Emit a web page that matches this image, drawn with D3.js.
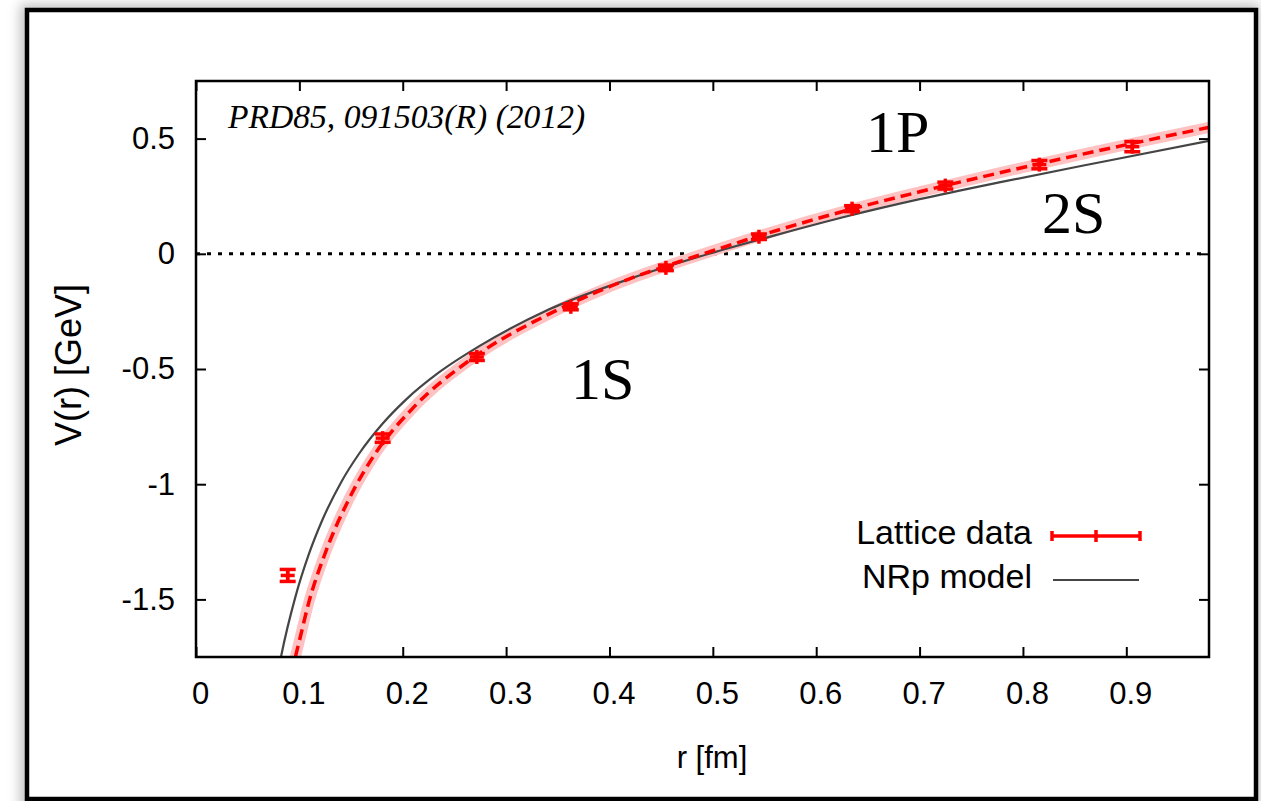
<!DOCTYPE html>
<html><head><meta charset="utf-8">
<script src="https://cdn.jsdelivr.net/npm/d3@7"></script>
<style>body{margin:0;background:#fff;} svg{display:block}</style>
</head><body>
<svg id="c" width="1261" height="801"></svg>
<script>
// ---- data ----
const latticeR   = [0.0887, 0.1806, 0.2717, 0.3626, 0.4546, 0.5446, 0.6347, 0.7249, 0.8159, 0.9058];
const latticeV   = [-1.396, -0.800, -0.448, -0.230, -0.061, 0.074, 0.196, 0.296, 0.387, 0.465];
const latticeErr = [0.026, 0.018, 0.015, 0.013, 0.012, 0.012, 0.013, 0.015, 0.018, 0.022];

const fitR = [0.093, 0.0961, 0.100, 0.109, 0.1252, 0.1477, 0.1748, 0.2087, 0.2704, 0.3413, 0.400, 0.4991, 0.550, 0.6318, 0.700, 0.777, 0.850, 0.9058, 0.980];
const fitV = [-1.82, -1.752, -1.68, -1.515, -1.297, -1.067, -0.858, -0.675, -0.444, -0.262, -0.143, 0.012, 0.085, 0.191, 0.269, 0.351, 0.425, 0.479, 0.549];

const nrpR = [0.080, 0.0826, 0.0961, 0.109, 0.1216, 0.1407, 0.1574, 0.180, 0.2026, 0.235, 0.2736, 0.3413, 0.420, 0.4962, 0.560, 0.6318, 0.700, 0.777, 0.8834, 0.980];
const nrpV = [-1.80, -1.741, -1.49, -1.306, -1.162, -0.989, -0.870, -0.740, -0.635, -0.515, -0.402, -0.242, -0.108, 0.000, 0.080, 0.165, 0.237, 0.310, 0.405, 0.490];

const xTicks = [0, 0.1, 0.2, 0.3, 0.4, 0.5, 0.6, 0.7, 0.8, 0.9];
const xTickLabels = ["0", "0.1", "0.2", "0.3", "0.4", "0.5", "0.6", "0.7", "0.8", "0.9"];
const yTicks = [0.5, 0, -0.5, -1, -1.5];
const yTickLabels = ["0.5", "0", "-0.5", "-1", "-1.5"];

const seriesNames = ["Lattice data", "NRp model"];
const xTitle = "r [fm]";
const yTitle = "V(r) [GeV]";
const refText = "PRD85, 091503(R) (2012)";
const stateLabels = [{t: "1P"}, {t: "2S"}, {t: "1S"}];

// ---- layout ----
const svg = d3.select("#c");
const L = 196, R = 1209, T = 81, B = 657;
const x = d3.scaleLinear().domain([0, 0.98]).range([L, R]);
const y = d3.scaleLinear().domain([-1.75, 0.75]).range([B, T]);
const font = "'Liberation Sans', Arial, Helvetica, sans-serif";
const serif = "'Liberation Serif', 'Times New Roman', Times, serif";

// outer frame with shadow
const defs = svg.append("defs");
const f = defs.append("filter").attr("id", "sh").attr("x", "-5%").attr("y", "-5%").attr("width", "110%").attr("height", "110%");
f.append("feGaussianBlur").attr("stdDeviation", 6);
svg.append("rect").attr("x", 20).attr("y", 4).attr("width", 1240).attr("height", 810)
  .attr("fill", "#9a9a9a").attr("filter", "url(#sh)").attr("opacity", 0.6);
svg.append("rect").attr("x", 27).attr("y", 10).attr("width", 1229).attr("height", 789)
  .attr("fill", "#fff").attr("stroke", "#000").attr("stroke-width", 4.5);

defs.append("clipPath").attr("id", "clip").append("rect")
  .attr("x", L).attr("y", T).attr("width", R - L).attr("height", B - T);

const g = svg.append("g");

// axes (ticks inward, mirrored)
const ax = g.append("g").attr("transform", `translate(0,${B})`)
  .call(d3.axisBottom(x).tickValues(xTicks).tickFormat((d, i) => xTickLabels[i]).tickSize(-10).tickPadding(25));
ax.selectAll(".tick text").attr("dx", 4);
const axT = g.append("g").attr("transform", `translate(0,${T})`)
  .call(d3.axisTop(x).tickValues(xTicks).tickFormat("").tickSize(-10));
const ay = g.append("g").attr("transform", `translate(${L},0)`)
  .call(d3.axisLeft(y).tickValues(yTicks).tickFormat((d, i) => yTickLabels[i]).tickSize(-10).tickPadding(21));
const ayR = g.append("g").attr("transform", `translate(${R},0)`)
  .call(d3.axisRight(y).tickValues(yTicks).tickFormat("").tickSize(-10));
[ax, axT, ay, ayR].forEach(a => {
  a.select(".domain").remove();
  a.selectAll(".tick line").attr("stroke", "#000").attr("stroke-width", 2);
  a.selectAll("text").attr("font-family", font).attr("font-size", 31).attr("fill", "#000");
});

// zero line
g.append("line").attr("x1", x(0)).attr("x2", x(0.98)).attr("y1", y(0)).attr("y2", y(0))
  .attr("stroke", "#000").attr("stroke-width", 3).attr("stroke-dasharray", "4,7");

const clipG = g.append("g").attr("clip-path", "url(#clip)");
const line = d3.line().x(d => x(d[0])).y(d => y(d[1])).curve(d3.curveMonotoneX);
const fitPts = fitR.map((r, i) => [r, fitV[i]]);
const nrpPts = nrpR.map((r, i) => [r, nrpV[i]]);

// fit band + dashed fit
clipG.append("path").attr("d", line(fitPts)).attr("fill", "none")
  .attr("stroke", "#ffc2c2").attr("stroke-width", 11);
// NRp model
clipG.append("path").attr("d", line(nrpPts)).attr("fill", "none")
  .attr("stroke", "#454545").attr("stroke-width", 2.2);
clipG.append("path").attr("d", line(fitPts)).attr("fill", "none")
  .attr("stroke", "#ff0000").attr("stroke-width", 3.5).attr("stroke-dasharray", "11,6");

// lattice points
const pts = latticeR.map((r, i) => ({r, v: latticeV[i], e: latticeErr[i]}));
const pg = clipG.selectAll("g.pt").data(pts).join("g").attr("class", "pt")
  .attr("stroke", "#ff0000").attr("stroke-width", 3.5);
pg.append("line").attr("x1", d => x(d.r)).attr("x2", d => x(d.r)).attr("y1", d => y(d.v + d.e)).attr("y2", d => y(d.v - d.e));
pg.append("line").attr("x1", d => x(d.r) - 8).attr("x2", d => x(d.r) + 8).attr("y1", d => y(d.v + d.e)).attr("y2", d => y(d.v + d.e));
pg.append("line").attr("x1", d => x(d.r) - 8).attr("x2", d => x(d.r) + 8).attr("y1", d => y(d.v - d.e)).attr("y2", d => y(d.v - d.e));
pg.append("line").attr("x1", d => x(d.r) - 7).attr("x2", d => x(d.r) + 7).attr("y1", d => y(d.v)).attr("y2", d => y(d.v));
pg.append("line").attr("x1", d => x(d.r)).attr("x2", d => x(d.r)).attr("y1", d => y(d.v) - 7).attr("y2", d => y(d.v) + 7);

// frame
g.append("rect").attr("x", L).attr("y", T).attr("width", R - L).attr("height", B - T)
  .attr("fill", "none").attr("stroke", "#000").attr("stroke-width", 2.5);

// titles
g.append("text").attr("x", 712).attr("y", 768).attr("text-anchor", "middle")
  .attr("font-family", font).attr("font-size", 31).text(xTitle);
g.append("text").attr("transform", "translate(81,365) rotate(-90)").attr("text-anchor", "middle")
  .attr("font-family", font).attr("font-size", 36).text(yTitle);

// reference note
g.append("text").attr("x", 228).attr("y", 128).attr("font-family", serif).attr("font-style", "italic")
  .attr("font-size", 33.6).text(refText);

// state labels
const statePos = [[866, 152], [1042, 233], [571, 399]];
g.selectAll("text.st").data(stateLabels).join("text").attr("class", "st")
  .attr("x", (d, i) => statePos[i][0]).attr("y", (d, i) => statePos[i][1])
  .attr("font-family", serif).attr("font-size", 60).text(d => d.t);

// legend
const lg = g.append("g");
lg.append("text").attr("x", 1032).attr("y", 544).attr("text-anchor", "end")
  .attr("font-family", font).attr("font-size", 34).text(seriesNames[0]);
lg.append("text").attr("x", 1032).attr("y", 588).attr("text-anchor", "end")
  .attr("font-family", font).attr("font-size", 34).text(seriesNames[1]);
const l1 = lg.append("g").attr("stroke", "#ff0000").attr("stroke-width", 3.5);
l1.append("line").attr("x1", 1052).attr("x2", 1140).attr("y1", 536).attr("y2", 536);
l1.append("line").attr("x1", 1052).attr("x2", 1052).attr("y1", 531).attr("y2", 541);
l1.append("line").attr("x1", 1140).attr("x2", 1140).attr("y1", 531).attr("y2", 541);
l1.append("line").attr("x1", 1096).attr("x2", 1096).attr("y1", 530).attr("y2", 542);
lg.append("line").attr("x1", 1053).attr("x2", 1139).attr("y1", 580).attr("y2", 580)
  .attr("stroke", "#454545").attr("stroke-width", 2.2);
</script>
</body></html>
